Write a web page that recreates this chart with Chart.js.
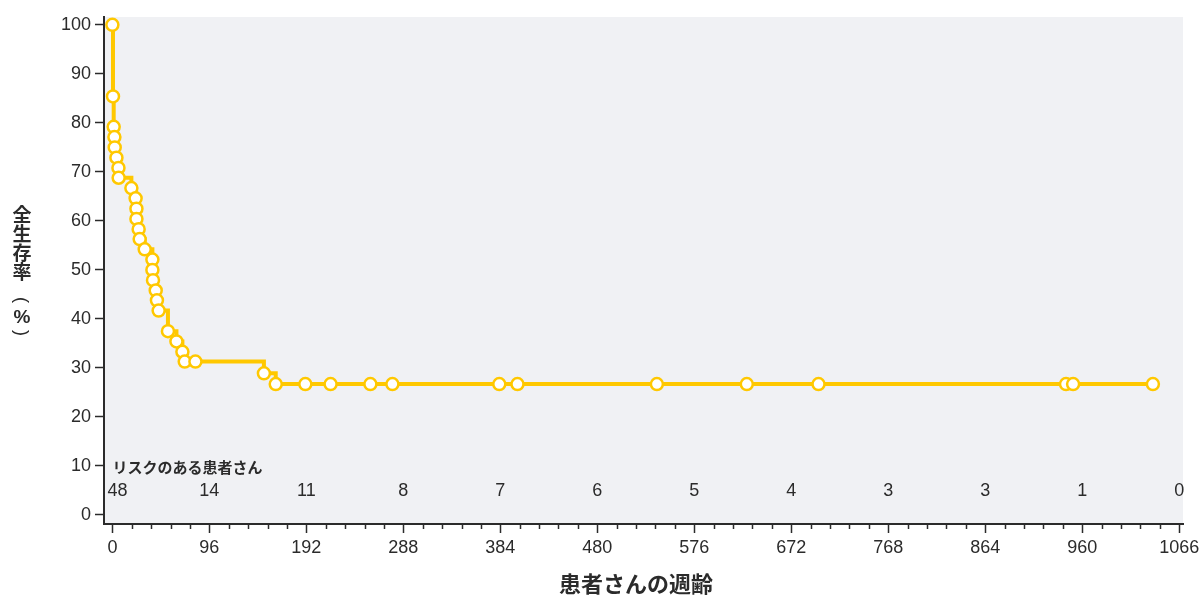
<!DOCTYPE html>
<html>
<head>
<meta charset="utf-8">
<script src="https://cdn.jsdelivr.net/npm/chart.js@4"></script>
<style>
  body { margin: 0; background: #fff; }
  canvas { display: block; }
</style>
</head>
<body>
<canvas id="kmChart" width="1200" height="595"></canvas>
<script>
// survival points (week, %)
var weeks = [0, 0.6, 1.3, 2, 2.3, 4, 6, 6.2, 18.8, 23, 23.8, 23.8, 26, 27, 32, 39.6, 39.6, 40.2, 42.9, 44.1, 45.8,
  55, 63.4, 69.3, 71.6, 82.2, 150, 161.7, 191, 216, 255.4, 277.2, 383, 401, 539, 628, 699, 944, 951, 1030];
var survival = [100, 85.4, 79.2, 77.1, 75.0, 72.9, 70.8, 68.8, 66.7, 64.6, 62.5, 60.4, 58.3, 56.3, 54.2, 52.1, 50.0, 47.9, 45.8, 43.8, 41.7,
  37.5, 35.4, 33.3, 31.3, 31.3, 28.9, 26.7, 26.7, 26.7, 26.7, 26.7, 26.7, 26.7, 26.7, 26.7, 26.7, 26.7, 26.7, 26.7];

var xTickValues = [0, 96, 192, 288, 384, 480, 576, 672, 768, 864, 960, 1056];
var xTickLabels = ['0', '96', '192', '288', '384', '480', '576', '672', '768', '864', '960', '1066'];
var yTickValues = [0, 10, 20, 30, 40, 50, 60, 70, 80, 90, 100];
var riskCounts = ['48', '14', '11', '8', '7', '6', '5', '4', '3', '3', '1', '0'];

var yellow = '#FFC800';
var ink = '#2b2b2b';
var latin = '"Liberation Sans", Arial, sans-serif';
var jpFont = '"Noto Sans CJK JP", sans-serif';

var pts = weeks.map(function (w, i) { return { x: w, y: survival[i] }; });

var decor = {
  id: 'decor',
  beforeDraw: function (chart) {
    var a = chart.chartArea, c = chart.ctx;
    c.save();
    c.fillStyle = '#F0F1F4';
    c.fillRect(a.left, a.top, a.right - a.left, a.bottom - a.top);
    c.restore();
  },
  afterDraw: function (chart) {
    var c = chart.ctx, xs = chart.scales.x, ys = chart.scales.y, a = chart.chartArea;
    c.save();
    // minor ticks on x
    c.strokeStyle = ink;
    c.lineWidth = 1.5;
    for (var v = 19.2; v < 1056; v += 19.2) {
      if (Math.abs(v / 96 - Math.round(v / 96)) < 0.01) continue;
      var px = Math.round(xs.getPixelForValue(v)) + 0.5;
      c.beginPath();
      c.moveTo(px, a.bottom);
      c.lineTo(px, a.bottom + 5);
      c.stroke();
    }
    // number at risk
    c.fillStyle = ink;
    c.textBaseline = 'middle';
    c.font = 'bold 15px ' + jpFont;
    c.textAlign = 'left';
    c.fillText('リスクのある患者さん', xs.getPixelForValue(0), ys.getPixelForValue(9.8));
    c.font = '18px ' + latin;
    riskCounts.forEach(function (n, i) {
      var px = xs.getPixelForValue(xTickValues[i]);
      if (i === 0) { c.textAlign = 'left'; px -= 5; } else { c.textAlign = 'center'; }
      c.fillText(n, px, ys.getPixelForValue(4.9));
    });
    // x axis title
    c.font = 'bold 22px ' + jpFont;
    c.textAlign = 'center';
    c.fillText('患者さんの週齢', 636, 584);
    // y axis title, stacked vertically
    c.font = 'bold 19px ' + jpFont;
    ['全', '生', '存', '率'].forEach(function (ch, i) {
      c.fillText(ch, 22, 215 + i * 19);
    });
    c.font = 'bold 19px ' + latin;
    c.fillText('%', 22, 318);
    [['(', 300], [')', 333]].forEach(function (p) {
      c.save();
      c.translate(22, p[1]);
      c.rotate(Math.PI / 2);
      c.font = '18px ' + latin;
      c.fillText(p[0], 0, 1);
      c.restore();
    });
    c.restore();
  }
};

new Chart(document.getElementById('kmChart'), {
  type: 'line',
  data: {
    datasets: [{
      data: pts,
      stepped: true,
      borderColor: yellow,
      borderWidth: 4,
      pointRadius: 6,
      pointBorderWidth: 2.5,
      pointBorderColor: yellow,
      pointBackgroundColor: '#ffffff',
      clip: false
    }]
  },
  options: {
    responsive: false,
    animation: false,
    layout: { padding: { top: 17, right: 17, left: 0, bottom: 0 } },
    plugins: { legend: { display: false }, tooltip: { enabled: false } },
    scales: {
      x: {
        type: 'linear',
        min: -8.3,
        max: 1059.8,
        afterBuildTicks: function (s) { s.ticks = xTickValues.map(function (v) { return { value: v }; }); },
        afterFit: function (s) { s.height = 71; s.paddingLeft = 0; s.paddingRight = 0; },
        grid: { drawOnChartArea: false, tickLength: 9, tickColor: ink, tickWidth: 1.5 },
        border: { color: ink, width: 2 },
        ticks: {
          autoSkip: false, maxRotation: 0, padding: 4, color: ink, font: { family: latin, size: 18 },
          callback: function (v, i) { return xTickLabels[i]; }
        }
      },
      y: {
        min: -1.84,
        max: 101.6,
        afterBuildTicks: function (s) { s.ticks = yTickValues.map(function (v) { return { value: v }; }); },
        afterFit: function (s) { s.width = 104; s.paddingTop = 0; s.paddingBottom = 0; },
        grid: { drawOnChartArea: false, tickLength: 9, tickColor: ink, tickWidth: 1.5 },
        border: { color: ink, width: 2 },
        ticks: { padding: 4, color: ink, font: { family: latin, size: 18 } }
      }
    }
  },
  plugins: [decor]
});
</script>
</body>
</html>
